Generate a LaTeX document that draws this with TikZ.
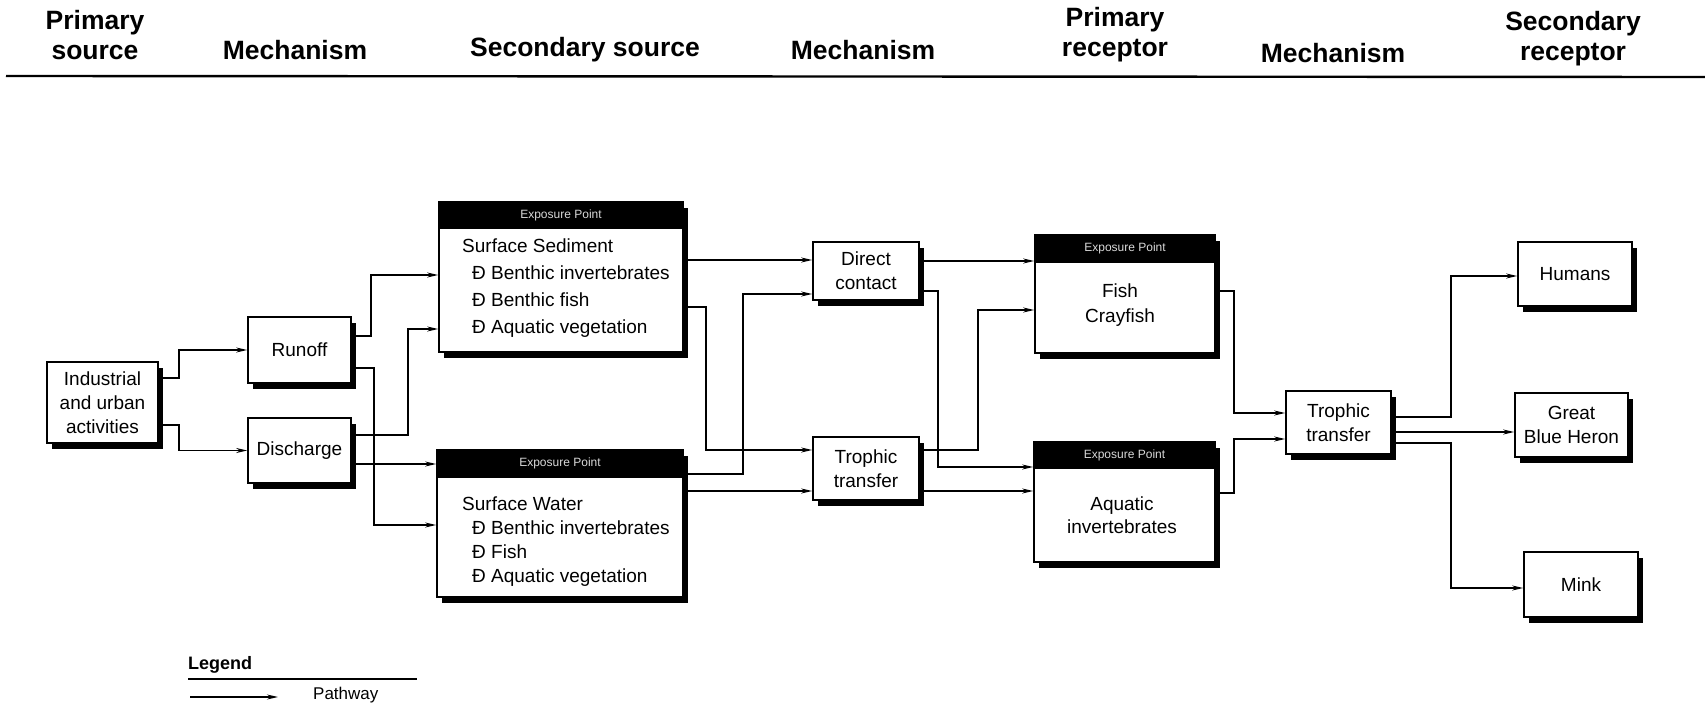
\documentclass[tikz,border=0pt]{standalone}
\usepackage{fontspec}
\setmainfont{Liberation Sans}
\usetikzlibrary{arrows.meta,shadows}
\begin{document}
\begin{tikzpicture}[x=1pt,y=-1pt,
  box/.style={draw, line width=1.7pt, fill=white, align=center, inner sep=0pt,
    font=\fontsize{19}{24}\selectfont,
    drop shadow={shadow xshift=5pt, shadow yshift=-6pt, fill=black, opacity=1}},
  hdrbar/.style={draw, fill=black, line width=1.7pt, inner sep=0pt, text=white!85!black,
    font=\fontsize{12}{14}\selectfont, anchor=north},
  coltitle/.style={align=center, font=\fontsize{26.5}{30}\selectfont\bfseries, inner sep=0pt},
  bodytext/.style={align=left, inner sep=0pt, anchor=west},
  arr/.style={line width=1.4pt, -{Stealth[length=11pt,width=5pt]}},
]
\useasboundingbox (0,0) rectangle (1705,706);

% column titles
\node[coltitle] (t1) at (95,35) {Primary\\source};
\node[coltitle] (t2) at (295,50) {Mechanism};
\node[coltitle] (t3) at (585,50) {Secondary source};
\node[coltitle] (t4) at (863,50) {Mechanism};
\node[coltitle] (t5) at (1115,35) {Primary\\receptor};
\node[coltitle] (t6) at (1333,53) {Mechanism};
\node[coltitle] (t7) at (1573,39) {Secondary\\receptor};
\coordinate (hlA) at (6,76);
\coordinate (hlB) at (1705,77);
\draw[line width=2.4pt] (hlA) -- (hlB);

% boxes
\node[box, minimum width=111pt, minimum height=81pt] (ind) at (102.5,402.5) {Industrial\\and urban\\activities};
\node[box, minimum width=103pt, minimum height=66pt] (runoff) at (299.5,350) {Runoff};
\node[box, minimum width=103pt, minimum height=65pt] (discharge) at (299.5,450.5) {Discharge};

\node[box, minimum width=244pt, minimum height=150pt] (sed) at (561,277) {};
\node[hdrbar, minimum width=244pt, minimum height=26pt] (sedh) at (sed.north) {Exposure Point};
\node[bodytext, font=\fontsize{19}{27}\selectfont] (sedt) at (462,288)
  {Surface Sediment\\\hspace*{10pt}Ð Benthic invertebrates\\\hspace*{10pt}Ð Benthic fish\\\hspace*{10pt}Ð Aquatic vegetation};

\node[box, minimum width=246pt, minimum height=147pt] (sw) at (560,523.5) {};
\node[hdrbar, minimum width=246pt, minimum height=27pt] (swh) at (sw.north) {Exposure Point};
\node[bodytext, font=\fontsize{19}{24}\selectfont] (swt) at (462,542)
  {Surface Water\\\hspace*{10pt}Ð Benthic invertebrates\\\hspace*{10pt}Ð Fish\\\hspace*{10pt}Ð Aquatic vegetation};

\node[box, minimum width=106pt, minimum height=58pt] (direct) at (866,271) {Direct\\contact};
\node[box, minimum width=106pt, minimum height=63pt] (troph1) at (866,468.5) {Trophic\\transfer};

\node[box, minimum width=180pt, minimum height=118pt] (fish) at (1125,294) {};
\node[hdrbar, minimum width=180pt, minimum height=27pt] (fishh) at (fish.north) {Exposure Point};
\node[align=center, inner sep=0pt, font=\fontsize{19}{25}\selectfont] (fisht) at (1120,305) {Fish\\Crayfish};

\node[box, minimum width=181pt, minimum height=120pt] (aqinv) at (1124.5,502) {};
\node[hdrbar, minimum width=181pt, minimum height=26pt] (aqinvh) at (aqinv.north) {Exposure Point};
\node[align=center, inner sep=0pt, font=\fontsize{19}{23}\selectfont] (aqinvt) at (1122,515) {Aquatic\\invertebrates};

\node[box, minimum width=105pt, minimum height=63pt] (troph2) at (1338.5,422.5) {Trophic\\transfer};
\node[box, minimum width=114pt, minimum height=64pt] (humans) at (1575,274) {Humans};
\node[box, minimum width=113pt, minimum height=64pt] (heron) at (1571.5,425) {Great\\Blue Heron};
\node[box, minimum width=114pt, minimum height=65pt] (mink) at (1581,584.5) {Mink};

% connectors
\draw[arr] (ind.east |- 0,378) -- (179,378) |- (runoff.west);
\draw[arr] (ind.east |- 0,425) -- (179,425) |- (discharge.west);
\draw[arr] (runoff.east |- 0,336) -- (371,336) |- (sed.west |- 0,275);
\draw[arr] (runoff.east |- 0,368) -- (374,368) |- (sw.west |- 0,525);
\draw[arr] (discharge.east |- 0,435) -- (408,435) |- (sed.west |- 0,329);
\draw[arr] (discharge.east |- 0,464) -- (sw.west |- 0,464);
\draw[arr] (sed.east |- 0,260) -- (direct.west |- 0,260);
\draw[arr] (sed.east |- 0,307) -- (706,307) |- (troph1.west |- 0,450);
\draw[arr] (sw.east |- 0,474) -- (743,474) |- (direct.west |- 0,294);
\draw[arr] (sw.east |- 0,491) -- (troph1.west |- 0,491);
\draw[arr] (direct.east |- 0,261) -- (fish.west |- 0,261);
\draw[arr] (direct.east |- 0,291) -- (938,291) |- (aqinv.west |- 0,467);
\draw[arr] (troph1.east |- 0,450) -- (978,450) |- (fish.west |- 0,310);
\draw[arr] (troph1.east |- 0,491) -- (aqinv.west |- 0,491);
\draw[arr] (fish.east |- 0,291) -- (1234,291) |- (troph2.west |- 0,413);
\draw[arr] (aqinv.east |- 0,493) -- (1234,493) |- (troph2.west |- 0,439);
\draw[arr] (troph2.east |- 0,417) -- (1451,417) |- (humans.west |- 0,276);
\draw[arr] (troph2.east |- 0,432) -- (heron.west |- 0,432);
\draw[arr] (troph2.east |- 0,443) -- (1451,443) |- (mink.west |- 0,588);

% legend
\node[bodytext, font=\fontsize{18}{20}\selectfont\bfseries] (lgt) at (188,665) {Legend};
\coordinate (lgl1) at (188,679);
\coordinate (lgl2) at (417,679);
\draw[line width=1.2pt] (lgl1) -- (lgl2);
\coordinate (lgA) at (190,697);
\coordinate (lgB) at (278,697);
\draw[arr] (lgA) -- (lgB);
\node[bodytext, font=\fontsize{17}{20}\selectfont] (lgp) at (313,695) {Pathway};
\end{tikzpicture}
\end{document}
